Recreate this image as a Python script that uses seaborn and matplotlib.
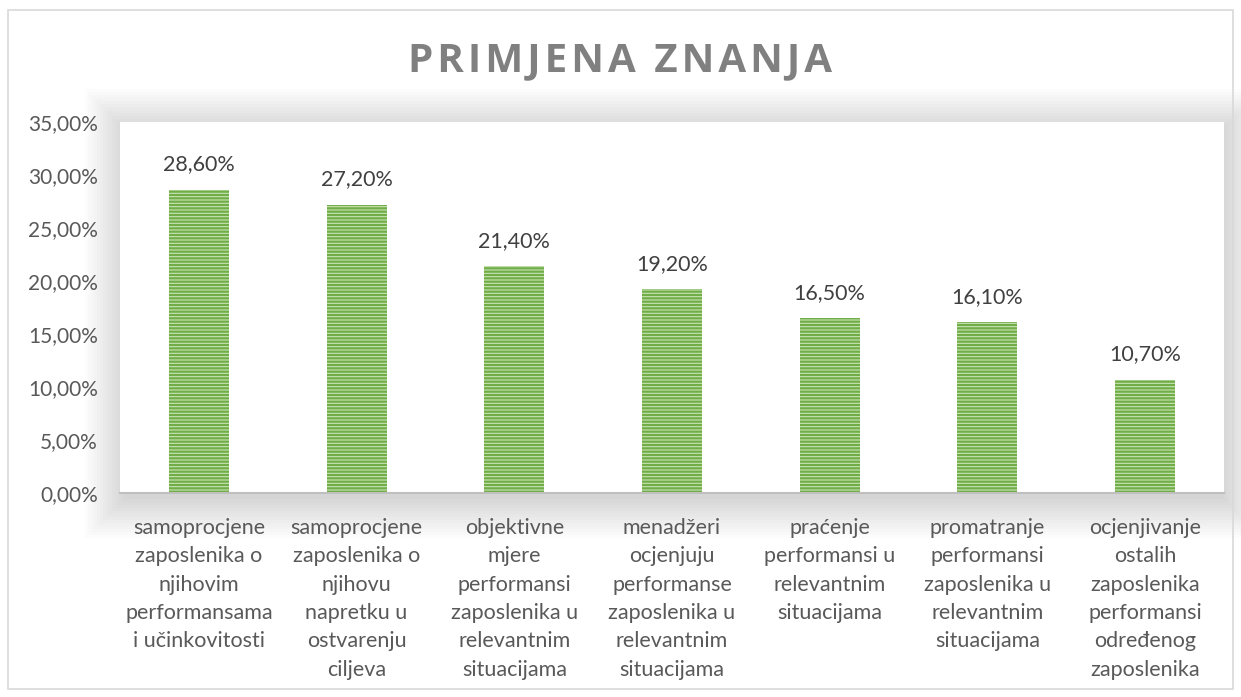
import numpy as np
import pandas as pd
import matplotlib
matplotlib.use('Agg')
import matplotlib.pyplot as plt
from matplotlib.patches import Rectangle
import seaborn as sns

# data
categories = [
    'samoprocjene\nzaposlenika o\nnjihovim\nperformansama\ni učinkovitosti',
    'samoprocjene\nzaposlenika o\nnjihovu\nnapretku u\nostvarenju\nciljeva',
    'objektivne\nmjere\nperformansi\nzaposlenika u\nrelevantnim\nsituacijama',
    'menadžeri\nocjenjuju\nperformanse\nzaposlenika u\nrelevantnim\nsituacijama',
    'praćenje\nperformansi u\nrelevantnim\nsituacijama',
    'promatranje\nperformansi\nzaposlenika u\nrelevantnim\nsituacijama',
    'ocjenjivanje\nostalih\nzaposlenika\nperformansi\nodređenog\nzaposlenika',
]
values = [28.6, 27.2, 21.4, 19.2, 16.5, 16.1, 10.7]
yticks = [0, 5, 10, 15, 20, 25, 30, 35]
title = 'PRIMJENA ZNANJA'

# setup
sns.set_theme(style='white')
plt.rcParams['font.family'] = ['Lato', 'DejaVu Sans']
plt.rcParams['hatch.linewidth'] = 1.6
text_color = '#595959'
W, H = 1241, 697

df = pd.DataFrame({'cat': categories, 'val': values})

fig = plt.figure(figsize=(W / 100, H / 100), dpi=100)
fig.patch.set_facecolor('white')

# plot area in pixels
x0, x1, ytop, ybot = 120, 1224, 122, 493
ax = fig.add_axes([x0 / W, 1 - ybot / H, (x1 - x0) / W, (ybot - ytop) / H])

# soft shadow around plot area
for pad in range(2, 42, 3):
    fig.patches.append(Rectangle(((x0 - pad + 6) / W, 1 - (ybot + pad + 4) / H),
                                 (x1 - x0 + 2 * pad - 8) / W, (ybot - ytop + 2 * pad - 4) / H,
                                 transform=fig.transFigure, facecolor='black', alpha=0.013,
                                 edgecolor='none', zorder=-5))
# outer chart border
fig.patches.append(Rectangle((8 / W, 1 - 689 / H), 1225 / W, 679 / H, transform=fig.transFigure,
                             facecolor='none', edgecolor='#D9D9D9', linewidth=1.2, zorder=-4))

sns.barplot(data=df, x='cat', y='val', ax=ax, width=0.38, color='#C9E3B6', saturation=1)
for p in ax.patches:
    p.set_hatch('-----')
    p.set_edgecolor('#70AD47')
    p.set_linewidth(0)

ax.set_facecolor('white')
ax.set_ylim(0, 35)
ax.set_xlim(-0.5, len(categories) - 0.5)
ax.set_yticks(yticks)
ax.set_yticklabels([f'{t:.2f}%'.replace('.', ',') for t in yticks])
ax.set_xlabel('')
ax.set_ylabel('')
for s in ['top', 'right', 'left']:
    ax.spines[s].set_visible(False)
ax.spines['bottom'].set_color('#BFBFBF')
ax.spines['bottom'].set_linewidth(1.5)
ax.tick_params(axis='y', length=0, pad=16, labelsize=15, labelcolor=text_color)
ax.tick_params(axis='x', length=0, pad=18, labelsize=15.5, labelcolor=text_color)
for lbl in ax.get_xticklabels():
    lbl.set_linespacing(1.52)
    lbl.set_horizontalalignment('center')
    lbl.set_verticalalignment('top')

# value labels
for i, v in enumerate(values):
    ax.annotate(f'{v:.2f}%'.replace('.', ','), (i, v), xytext=(0, 11), textcoords='offset points',
                ha='center', va='bottom', fontsize=15.5, color='#404040')

fig.text(0.5, 1 - 61 / H, '\u200a'.join(title), ha='center', va='center', fontsize=29,
         fontweight='bold', color='#808080', family=['Open Sans', 'DejaVu Sans'])

fig.savefig('out.png', dpi=100)
